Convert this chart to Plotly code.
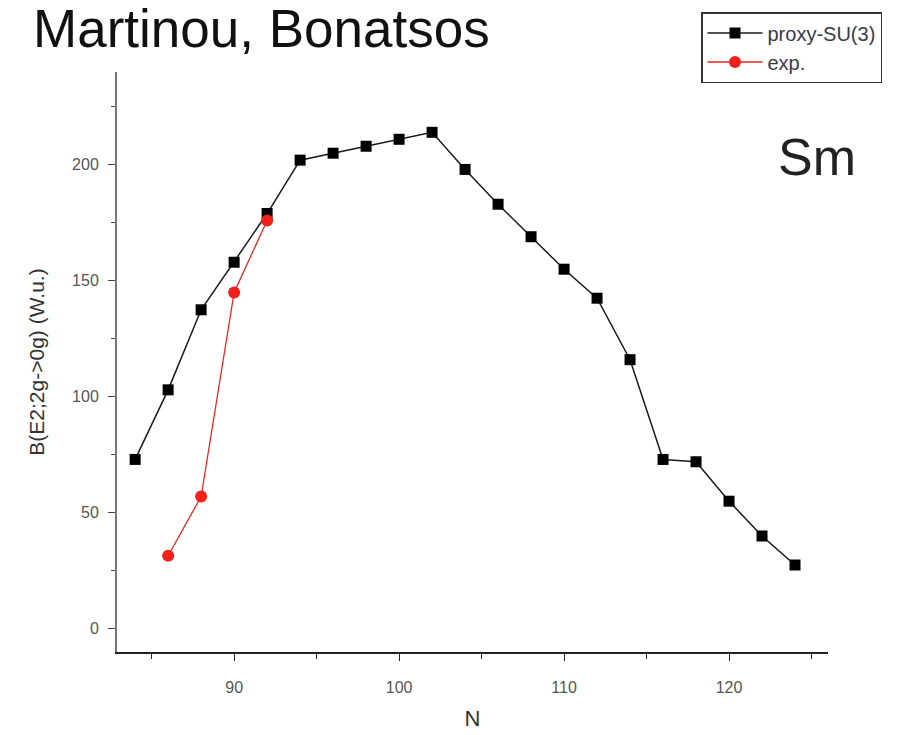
import plotly.graph_objects as go

# Data
N_theory = [84, 86, 88, 90, 92, 94, 96, 98, 100, 102, 104, 106, 108, 110, 112, 114, 116, 118, 120, 122, 124]
BE2_theory = [73, 103, 137.5, 158, 179, 202, 205, 208, 211, 214, 198, 183, 169, 155, 142.5, 116, 73, 72, 55, 40, 27.5]
N_exp = [86, 88, 90, 92]
BE2_exp = [31.5, 57, 145, 176]

fig = go.Figure()
fig.add_trace(go.Scatter(
    x=N_theory, y=BE2_theory, mode="lines+markers", name="proxy-SU(3)",
    line=dict(color="#1a1a1a", width=1.5),
    marker=dict(symbol="square", size=11, color="#000000"),
))
fig.add_trace(go.Scatter(
    x=N_exp, y=BE2_exp, mode="lines+markers", name="exp.",
    line=dict(color="#e8281e", width=1.3),
    marker=dict(symbol="circle", size=12, color="#f0201a"),
))

L, R, T, B = 117, 96, 72, 83
W, H = 924, 735
pw, ph = W - L - R, H - T - B

def px(x):
    return (x - L) / pw

def py(y):
    return (H - B - y) / ph

fig.update_layout(
    width=W, height=H,
    margin=dict(l=L, r=R, t=T, b=B, autoexpand=False),
    paper_bgcolor="white", plot_bgcolor="white",
    font=dict(family="Liberation Sans, Arial, sans-serif", color="#333333"),
    showlegend=True,
    legend=dict(
        x=px(701), y=py(12), xanchor="left", yanchor="top",
        bordercolor="#333333", borderwidth=1.5, bgcolor="white",
        font=dict(size=20, color="#3a3a4a"),
        tracegroupgap=0, itemwidth=55,
    ),
    annotations=[
        dict(text="Martinou, Bonatsos", x=px(492), y=py(-3), xref="paper", yref="paper",
             xanchor="right", yanchor="top", showarrow=False,
             font=dict(size=53, color="#111111", family="Liberation Sans, Arial, sans-serif")),
        dict(text="Sm", x=px(817), y=py(157), xref="paper", yref="paper",
             xanchor="center", yanchor="middle", showarrow=False,
             font=dict(size=52, color="#222222", family="Liberation Sans, Arial, sans-serif")),
    ],
)

fig.update_xaxes(
    range=[82.9, 126], dtick=10, tick0=0, automargin=False,
    showgrid=False, zeroline=False,
    showline=True, linecolor="#222222", linewidth=1.5,
    ticks="outside", ticklen=7, tickwidth=1.2, tickcolor="#222222",
    minor=dict(dtick=5, tick0=0, ticks="outside", ticklen=5, tickwidth=1.2, tickcolor="#222222", showgrid=False),
    tickfont=dict(size=16, color="#555555"),
    ticklabelstandoff=13,
    title=dict(text="N", font=dict(size=22, color="#333333"), standoff=16),
)
fig.update_yaxes(
    range=[-10, 240], dtick=50, tick0=0, automargin=False,
    showgrid=False, zeroline=False,
    showline=True, linecolor="#777777", linewidth=2,
    ticks="outside", ticklen=7, tickwidth=1.2, tickcolor="#444444",
    minor=dict(dtick=25, tick0=0, ticks="outside", ticklen=4, tickwidth=1.2, tickcolor="#444444", showgrid=False),
    tickfont=dict(size=16, color="#555555"),
    ticklabelstandoff=6,
    title=dict(text="B(E2;2g->0g) (W.u.)", font=dict(size=21, color="#333333"), standoff=22),
)

fig.write_html("out.html")
